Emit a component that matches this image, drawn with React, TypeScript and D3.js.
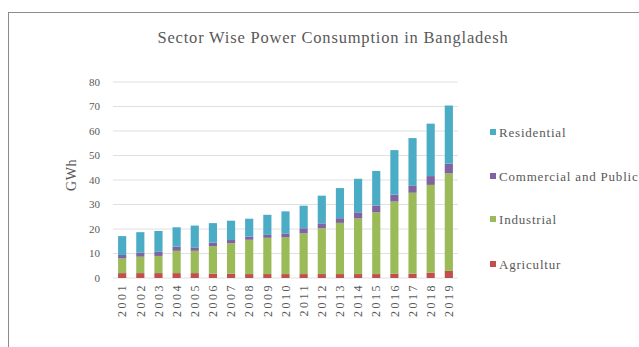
import React from "react";
import * as d3 from "d3";

const years = ["2001","2002","2003","2004","2005","2006","2007","2008","2009","2010","2011","2012","2013","2014","2015","2016","2017","2018","2019"];
const agriculture = [2.0,2.0,2.0,2.0,2.0,1.8,1.8,1.6,1.6,1.6,1.6,1.6,1.6,1.6,1.6,1.8,1.8,2.2,2.9];
const industrial = [6.0,6.7,7.0,9.1,9.1,11.2,12.4,14.0,14.8,15.0,16.6,18.7,20.9,22.7,25.2,29.4,33.0,35.8,39.8];
const commercial = [1.4,1.6,1.7,1.7,1.4,1.4,1.3,1.3,1.2,1.6,2.1,2.0,1.9,2.5,2.8,2.8,3.0,3.6,4.0];
const residential = [7.7,8.4,8.5,7.9,8.9,8.0,7.9,7.3,8.2,9.0,9.2,11.3,12.3,13.7,14.1,18.2,19.3,21.4,23.7];
const yTicks = [0,10,20,30,40,50,60,70,80];
const seriesNames = ["Agriculture","Industrial","Commercial and Public","Residential"];
const legendLabels = ["Residential","Commercial and Public","Industrial","Agricultur"];
const colors: Record<string,string> = {
  "Agriculture": "#C0504D",
  "Industrial": "#9BBB59",
  "Commercial and Public": "#8064A2",
  "Residential": "#4BACC6",
};
const legendColorKeys = ["Residential","Commercial and Public","Industrial","Agriculture"];

export default function App() {
  const W = 639, H = 347;
  const left = 113, right = 458, top = 82, bottom = 278;
  const rows = years.map((y, i) => ({
    year: y,
    "Agriculture": agriculture[i],
    "Industrial": industrial[i],
    "Commercial and Public": commercial[i],
    "Residential": residential[i],
  }));
  const stack = d3.stack<any>().keys(seriesNames)(rows);
  const x = d3.scaleBand().domain(years).range([left, right]).paddingInner(0.55).paddingOuter(0.28);
  const y = d3.scaleLinear().domain([0, 80]).range([bottom, top]);
  const font = "'Liberation Serif', 'Times New Roman', serif";
  const legendY = [132, 176, 219, 264];
  return (
    <svg width={W} height={H} style={{ position: "fixed", left: 0, top: 0, background: "#fff" }} fontFamily={font}>
      <rect x={8.5} y={12.5} width={700} height={400} fill="#fff" stroke="#8c8c8c" strokeWidth={1} />
      <text x={333} y={43} textAnchor="middle" fontSize={16.5} letterSpacing={0.8} fill="#595959">Sector Wise Power Consumption in Bangladesh</text>
      {yTicks.map(t => (
        <g key={t}>
          <line x1={left} x2={right} y1={y(t)} y2={y(t)} stroke="#e0e0e0" strokeWidth={1} />
          <text x={100} y={y(t)} dy="0.35em" textAnchor="end" fontSize={11} fill="#595959">{t}</text>
        </g>
      ))}
      <text transform={`translate(76,175) rotate(-90)`} textAnchor="middle" fontSize={14} letterSpacing={0.5} fill="#595959">GWh</text>
      {stack.map(s => (
        <g key={s.key} fill={colors[s.key]}>
          {s.map((d, i) => (
            <rect key={i} x={x(years[i])} width={x.bandwidth()} y={y(d[1])} height={y(d[0]) - y(d[1])} />
          ))}
        </g>
      ))}
      {years.map(yr => (
        <text key={yr} transform={`translate(${(x(yr) as number) + x.bandwidth() / 2},${bottom + 5}) rotate(-90)`} textAnchor="end" dy="0.35em" fontSize={12} letterSpacing={2.5} fill="#595959">{yr}</text>
      ))}
      {legendLabels.map((l, i) => (
        <g key={l}>
          <rect x={490} y={legendY[i] - 3} width={6} height={6} fill={colors[legendColorKeys[i]]} />
          <text x={499} y={legendY[i]} dy="0.35em" fontSize={13} letterSpacing={0.8} fill="#595959">{l}</text>
        </g>
      ))}
    </svg>
  );
}
